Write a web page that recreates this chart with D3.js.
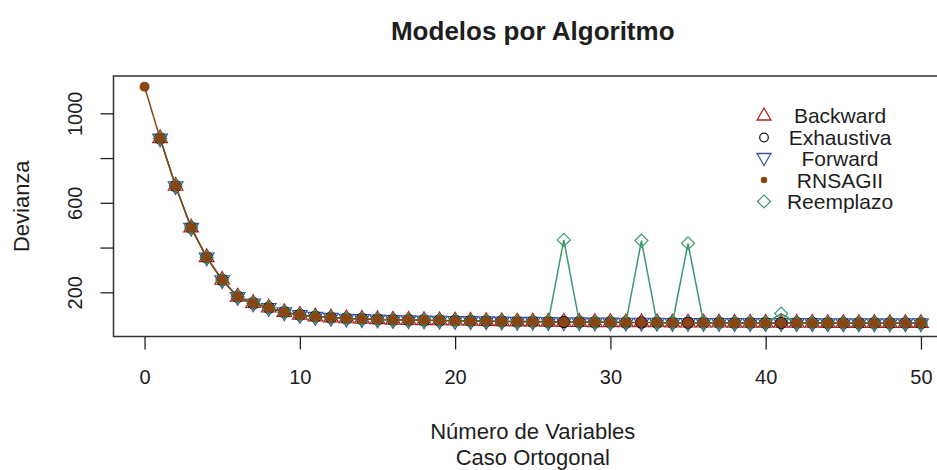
<!DOCTYPE html>
<html>
<head>
<meta charset="utf-8">
<script src="https://cdn.jsdelivr.net/npm/d3@7"></script>
<style>
  body { margin: 0; background: #fff; }
  svg text { font-family: "Liberation Sans", Arial, sans-serif; fill: #1e1e1e; }
</style>
</head>
<body>
<svg id="chart" width="937" height="470"></svg>
<script>
// number of variables
const nVars = d3.range(0, 51);
// common deviance curve (Backward / Exhaustiva / Forward), x = 1..50
const baseDev = [888, 675, 489, 356, 255, 180, 151, 131, 111, 99,
  91, 87, 83, 81, 79, 77, 76, 75, 74, 73,
  72, 71, 70, 69, 69, 68, 67, 67, 66, 66,
  65, 65, 65, 64, 64, 64, 64, 63, 63, 63,
  63, 63, 63, 62, 62, 62, 62, 62, 62, 62];
const rnsagiiStart = 1119; // RNSAGII also has a model with 0 variables
const reemplazoSpikes = { 27: 434, 32: 431, 35: 419, 41: 105 };

const seriesNames = ['Backward', 'Exhaustiva', 'Forward', 'RNSAGII', 'Reemplazo'];
const seriesColors = ['#b22222', '#111111', '#3d55a5', '#8b4513', '#3a9a68'];
const xTicks = [0, 10, 20, 30, 40, 50];
const yTicks = [200, 400, 600, 800, 1000];
const yTickLabels = { 200: '200', 600: '600', 1000: '1000' };

const pts = (vals, x0) => vals.map((v, i) => ({ x: x0 + i, y: v }));
const backward = pts(baseDev, 1);
const exhaustiva = pts(baseDev, 1);
const forward = pts(baseDev, 1);
const rnsagii = pts([rnsagiiStart].concat(baseDev), 0);
const reemplazo = pts(baseDev.map((v, i) => reemplazoSpikes[i + 1] !== undefined ? reemplazoSpikes[i + 1] : v), 1);

const svg = d3.select('#chart');
const pLeft = 113.5, pRight = 952, pTop = 76, pBottom = 336.5;

const x = d3.scaleLinear().domain([-2, 52]).range([pLeft, pRight]);
const y = d3.scaleLinear().domain([2.5, 1166.7]).range([pBottom, pTop]);

const line = d3.line().x(d => x(d.x)).y(d => y(d.y));

// symbols like R's pch
const triUp = (cx, cy, r) => `M${cx},${cy - r}L${cx + 0.866 * r},${cy + r / 2}L${cx - 0.866 * r},${cy + r / 2}Z`;
const triDown = (cx, cy, r) => `M${cx},${cy + r}L${cx + 0.866 * r},${cy - r / 2}L${cx - 0.866 * r},${cy - r / 2}Z`;
const diamond = (cx, cy, r) => `M${cx},${cy - r}L${cx + r},${cy}L${cx},${cy + r}L${cx - r},${cy}Z`;

const plot = svg.append('g');

function drawLine(data, color, w) {
  plot.append('path').datum(data)
    .attr('d', line)
    .attr('fill', 'none')
    .attr('stroke', color)
    .attr('stroke-width', w);
}

// Backward
drawLine(backward, seriesColors[0], 1.2);
plot.selectAll('.bk').data(backward).join('path')
  .attr('class', 'bk')
  .attr('d', d => triUp(x(d.x), y(d.y), 8.5))
  .attr('fill', 'none').attr('stroke', seriesColors[0]).attr('stroke-width', 1.2);

// Forward
drawLine(forward, seriesColors[2], 1.2);
plot.selectAll('.fw').data(forward).join('path')
  .attr('class', 'fw')
  .attr('d', d => triDown(x(d.x), y(d.y), 8.5))
  .attr('fill', 'none').attr('stroke', seriesColors[2]).attr('stroke-width', 1.2);

// Exhaustiva
plot.selectAll('.ex').data(exhaustiva).join('circle')
  .attr('class', 'ex')
  .attr('cx', d => x(d.x)).attr('cy', d => y(d.y)).attr('r', 5.6)
  .attr('fill', 'none').attr('stroke', seriesColors[1]).attr('stroke-width', 1.2);

// Reemplazo
drawLine(reemplazo, seriesColors[4], 1.5);
plot.selectAll('.re').data(reemplazo).join('path')
  .attr('class', 're')
  .attr('d', d => diamond(x(d.x), y(d.y), 6.5))
  .attr('fill', 'none').attr('stroke', seriesColors[4]).attr('stroke-width', 1.2);

// RNSAGII
drawLine(rnsagii, seriesColors[3], 1.5);
plot.selectAll('.rn').data(rnsagii).join('circle')
  .attr('class', 'rn')
  .attr('cx', d => x(d.x)).attr('cy', d => y(d.y)).attr('r', 5)
  .attr('fill', seriesColors[3]);

// box
svg.append('rect')
  .attr('x', pLeft).attr('y', pTop)
  .attr('width', pRight - pLeft).attr('height', pBottom - pTop)
  .attr('fill', 'none').attr('stroke', '#333').attr('stroke-width', 1.5);

// x axis
const xAxis = svg.append('g')
  .attr('transform', `translate(0,${pBottom})`)
  .call(d3.axisBottom(x).tickValues(xTicks).tickSize(13).tickPadding(20).tickSizeOuter(0));
xAxis.select('.domain').remove();
xAxis.selectAll('line').attr('stroke', '#222').attr('stroke-width', 1.3);
xAxis.selectAll('text').attr('font-size', 20).attr('fill', '#1e1e1e')
  .attr('font-family', '"Liberation Sans", Arial, sans-serif');

// y axis
const yAxis = svg.append('g')
  .attr('transform', `translate(${pLeft},0)`)
  .call(d3.axisLeft(y).tickValues(yTicks).tickSize(13).tickFormat(d => yTickLabels[d] || '').tickSizeOuter(0));
yAxis.select('.domain').remove();
yAxis.selectAll('line').attr('stroke', '#222').attr('stroke-width', 1.3);
yAxis.selectAll('text')
  .attr('font-size', 20).attr('fill', '#1e1e1e')
  .attr('font-family', '"Liberation Sans", Arial, sans-serif')
  .attr('text-anchor', 'middle')
  .attr('dy', 0)
  .attr('x', 0)
  .attr('transform', d => `translate(-32,0) rotate(-90)`);

// titles
svg.append('text')
  .attr('x', (pLeft + pRight) / 2).attr('y', 40)
  .attr('text-anchor', 'middle')
  .attr('font-size', 26).attr('font-weight', 'bold')
  .text('Modelos por Algoritmo');

svg.append('text')
  .attr('x', (pLeft + pRight) / 2).attr('y', 439)
  .attr('text-anchor', 'middle').attr('font-size', 22)
  .text('Número de Variables');
svg.append('text')
  .attr('x', (pLeft + pRight) / 2).attr('y', 465)
  .attr('text-anchor', 'middle').attr('font-size', 22)
  .text('Caso Ortogonal');

svg.append('text')
  .attr('transform', `translate(29,${(pTop + pBottom) / 2}) rotate(-90)`)
  .attr('text-anchor', 'middle').attr('font-size', 22)
  .text('Devianza');

// legend
const legendY = [115, 137.5, 158.5, 180, 201.5];
const lg = svg.append('g');
const lx = 764;
seriesNames.forEach((name, i) => {
  const cy = legendY[i];
  lg.append('text')
    .attr('x', 840).attr('y', cy + 7.5)
    .attr('text-anchor', 'middle').attr('font-size', 21)
    .text(name);
});
lg.append('path').attr('d', triUp(lx, legendY[0] + 1, 8))
  .attr('fill', 'none').attr('stroke', seriesColors[0]).attr('stroke-width', 1.3);
lg.append('circle').attr('cx', lx).attr('cy', legendY[1]).attr('r', 4.3)
  .attr('fill', 'none').attr('stroke', seriesColors[1]).attr('stroke-width', 1.2);
lg.append('path').attr('d', triDown(lx, legendY[2] - 1, 8))
  .attr('fill', 'none').attr('stroke', seriesColors[2]).attr('stroke-width', 1.3);
lg.append('circle').attr('cx', lx).attr('cy', legendY[3]).attr('r', 3.2)
  .attr('fill', seriesColors[3]);
lg.append('path').attr('d', diamond(lx, legendY[4], 6.5))
  .attr('fill', 'none').attr('stroke', seriesColors[4]).attr('stroke-width', 1.2);
</script>
</body>
</html>
